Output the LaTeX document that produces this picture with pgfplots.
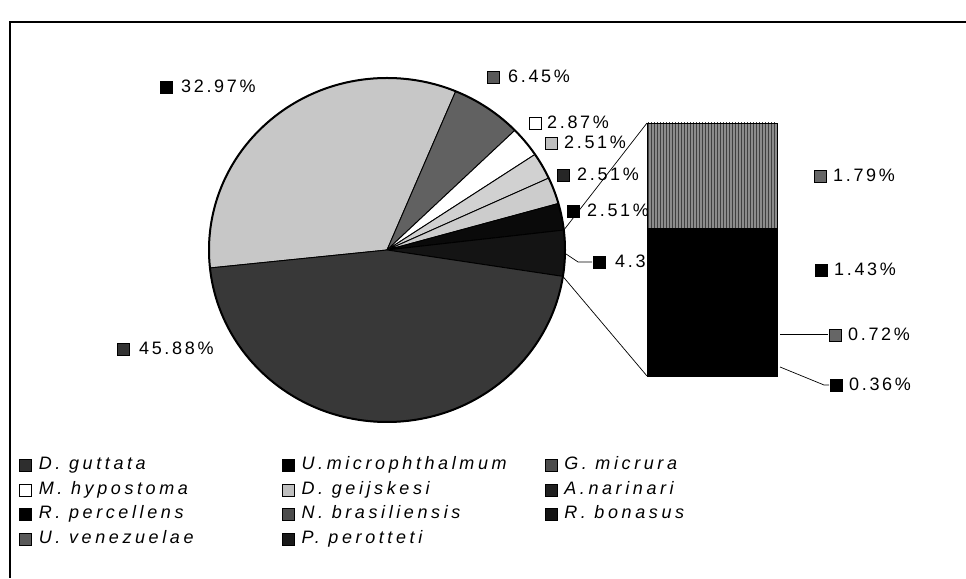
\documentclass[border=0pt]{standalone}
\usepackage{fontspec}
\setmainfont{Liberation Sans}
\newfontfamily\lblfont[LetterSpace=15]{Liberation Sans}
\newfontfamily\legfont[LetterSpace=20]{Liberation Sans}
\usepackage{pgfplots}
\usepackage{pgfplotstable}
\pgfplotsset{compat=1.18}
\usetikzlibrary{patterns}

\definecolor{c0}{gray}{0.78} % 32.97
\definecolor{c1}{gray}{0.38} % 6.45
\definecolor{c2}{gray}{1.00} % 2.87
\definecolor{c3}{gray}{0.82} % 2.51
\definecolor{c4}{gray}{0.80} % 2.51
\definecolor{c5}{gray}{0.04} % 2.51
\definecolor{c6}{gray}{0.08} % other 4.30
\definecolor{c7}{gray}{0.22} % 45.88

\pgfplotstableread{
idx pct
0 32.97
1 6.45
2 2.87
3 2.51
4 2.51
5 2.51
6 4.30
7 45.88
}\pietable

\newcommand\mk[1]{{\setlength\fboxsep{0pt}\setlength\fboxrule{0.7pt}\fcolorbox{black}{#1}{\rule{0pt}{11.5pt}\rule{11.5pt}{0pt}}}}
\newcommand\legsq[1]{\addlegendimage{legend image code/.code={\filldraw[fill=#1,draw=black,line width=0.7pt] (0pt,-6pt) rectangle (12pt,6pt);}}}
\newcommand\legtxt[1]{\makebox[244pt][l]{\hspace{4pt}#1}}

\begin{document}
\begin{tikzpicture}
\def\pcx{387}\def\pcy{328}\def\prx{178}\def\pry{172}
\pgfplotstablegetrowsof{\pietable}
\pgfmathtruncatemacro\nrows{\pgfplotsretval-1}
\xdef\curangle{186}
\foreach \i in {0,...,\nrows}{%
  \pgfplotstablegetelem{\i}{pct}\of\pietable
  \pgfmathsetmacro\endang{\curangle-3.6*\pgfplotsretval}%
  \expandafter\xdef\csname sa\i\endcsname{\curangle}%
  \expandafter\xdef\csname ea\i\endcsname{\endang}%
  \xdef\curangle{\endang}%
}
\edef\oS{\csname sa6\endcsname}\edef\oE{\csname ea6\endcsname}
\pgfmathsetmacro\oM{(\oS+\oE)/2}
\begin{axis}[x=1pt,y=1pt,xmin=0,xmax=966,ymin=0,ymax=578,
  hide axis, clip=false, at={(0,0)}, anchor=south west,
  legend columns=3,
  legend cell align=left,
  legend style={at={(axis cs:19,125)}, anchor=north west, draw=none, fill=none,
    inner sep=0pt, font=\legfont\itshape\fontsize{18}{21}\selectfont, row sep=0pt, column sep=0pt,
    nodes={inner xsep=3pt, inner ysep=0pt, text height=13pt, text depth=4pt, minimum height=24.5pt}}]
\pgfplotsinvokeforeach{0,...,7}{
  \fill[c#1, draw=black, line width=0.9pt, line join=round]
    (axis cs:\pcx,\pcy) -- (axis cs:{\pcx+\prx*cos(\csname sa#1\endcsname)},{\pcy+\pry*sin(\csname sa#1\endcsname)})
    arc[start angle=\csname sa#1\endcsname, end angle=\csname ea#1\endcsname, x radius=\prx pt, y radius=\pry pt] -- cycle;
}
\draw[line width=2pt] (axis cs:\pcx,\pcy) ellipse[x radius=\prx pt, y radius=\pry pt];
% frame
\draw[line width=2pt] (axis cs:10,0) -- (axis cs:10,556) -- (axis cs:966,556);
% connectors to bar
\draw[line width=0.7pt] (axis cs:{\pcx+\prx*cos(\oS)},{\pcy+\pry*sin(\oS)}) -- (axis cs:647,455);
\draw[line width=0.7pt] (axis cs:{\pcx+\prx*cos(\oE)},{\pcy+\pry*sin(\oE)}) -- (axis cs:647,202);
\draw[line width=0.7pt] (axis cs:{\pcx+\prx*cos(\oM)},{\pcy+\pry*sin(\oM)}) -- (axis cs:578,316) -- (axis cs:592,316);
% labels
\begin{scope}[every node/.style={anchor=west, inner sep=0pt, font=\lblfont\fontsize{18}{21}\selectfont}]
\node at (axis cs:160,491) {\mk{black}\hspace{8pt}32.97\%};
\node at (axis cs:487,501) {\mk{black!65}\hspace{8pt}6.45\%};
\node at (axis cs:529,455) {\mk{white}\hspace{5pt}2.87\%};
\node at (axis cs:545,435) {\mk{black!25}\hspace{6pt}2.51\%};
\node at (axis cs:557,403) {\mk{black!85}\hspace{7pt}2.51\%};
\node at (axis cs:567,367) {\mk{black}\hspace{7pt}2.51\%};
\node at (axis cs:593,316) {\mk{black}\hspace{9pt}4.30\%};
\node at (axis cs:117,229) {\mk{black!80}\hspace{9pt}45.88\%};
\node at (axis cs:814,402) {\mk{black!60}\hspace{6pt}1.79\%};
\node at (axis cs:815,308) {\mk{black}\hspace{6pt}1.43\%};
\node at (axis cs:829,243) {\mk{black!60}\hspace{6pt}0.72\%};
\node at (axis cs:830,193) {\mk{black}\hspace{6pt}0.36\%};
\end{scope}
\draw[line width=0.7pt] (axis cs:780,244) -- (axis cs:828,244);
\draw[line width=0.7pt] (axis cs:780,211) -- (axis cs:824,193) -- (axis cs:829,193);
% legend
\legsq{black!82}\addlegendentry{\legtxt{D. guttata}}
\legsq{black}\addlegendentry{\legtxt{U.microphthalmum}}
\legsq{black!70}\addlegendentry{\legtxt{G. micrura}}
\legsq{white}\addlegendentry{\legtxt{M. hypostoma}}
\legsq{black!25}\addlegendentry{\legtxt{D. geijskesi}}
\legsq{black!88}\addlegendentry{\legtxt{A.narinari}}
\legsq{black}\addlegendentry{\legtxt{R. percellens}}
\legsq{black!70}\addlegendentry{\legtxt{N. brasiliensis}}
\legsq{black!92}\addlegendentry{\legtxt{R. bonasus}}
\legsq{black!65}\addlegendentry{\legtxt{U. venezuelae}}
\legsq{black!90}\addlegendentry{\legtxt{P. perotteti}}
\end{axis}
\begin{axis}[at={(647pt,202pt)}, anchor=south west, scale only axis,
  width=130pt, height=253pt, hide axis, xmin=0, xmax=1, ymin=0, ymax=4.30,
  ybar stacked, bar width=130pt, clip=false]
\addplot[fill=black, draw=black, line width=0.6pt] coordinates {(0.5,0.36)};
\addplot[fill=black, draw=black, line width=0.6pt] coordinates {(0.5,0.72)};
\addplot[fill=black, draw=black, line width=0.6pt] coordinates {(0.5,1.43)};
\addplot[fill=black!45, draw=black, line width=0.6pt, postaction={pattern=vertical lines, pattern color=black!75}] coordinates {(0.5,1.79)};
\end{axis}
\pgfresetboundingbox
\useasboundingbox (0,0) rectangle (966pt,578pt);
\end{tikzpicture}
\end{document}
